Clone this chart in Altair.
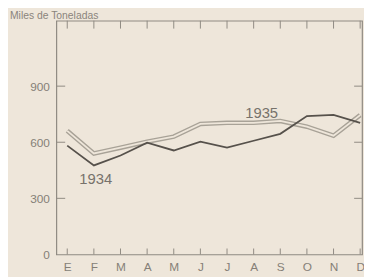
import altair as alt
import pandas as pd

months = ["E", "F", "M", "A", "M", "J", "J", "A", "S", "O", "N", "D"]
y1934 = [582, 476, 529, 598, 556, 603, 571, 608, 645, 740, 746, 704]
y1935 = [661, 540, 571, 603, 630, 698, 704, 704, 714, 683, 635, 745]
yticks = [0, 300, 600, 900]
labels = ["1934", "1935"]
label_x = [1.07, 7.3]
label_y = [405, 758]

BG = "#eee6da"
GRAY = "#8f8a82"
TXT = "#857f77"
FONT = "Liberation Sans"

idx = list(range(len(months)))
d34 = pd.DataFrame({"i": idx, "v": y1934})
d35 = pd.DataFrame({"i": idx, "v": y1935})
dm = pd.DataFrame({"i": idx, "m": months})
dy = pd.DataFrame({"v": yticks[1:]})
dl = pd.DataFrame({"i": label_x, "v": label_y, "t": labels})

label_expr = "[" + ",".join(f"'{m}'" for m in months) + "][round(datum.value)]"

xs = alt.Scale(domain=[-0.41, 11.07], nice=False, zero=False)
ys = alt.Scale(domain=[0, 1250], nice=False)

xaxis = alt.Axis(
    values=idx, labelExpr=label_expr, title=None, domain=False, ticks=False,
    grid=False, labelPadding=7, labelFontSize=12, labelColor=TXT, labelFont=FONT,
    labelOverlap=False, labelBound=False, labelFlush=False, labelSeparation=0)
yaxis = alt.Axis(
    values=yticks, title=None, domain=False, ticks=False, grid=False,
    labelPadding=7, labelFontSize=12, labelColor=TXT, labelFont=FONT,
    labelOverlap=False)

xenc = alt.X("i:Q", scale=xs, axis=xaxis)
yenc = alt.Y("v:Q", scale=ys, axis=yaxis)

l35a = alt.Chart(d35).mark_line(color="#a8a297", strokeWidth=4.6).encode(x=xenc, y=yenc)
l35b = alt.Chart(d35).mark_line(color=BG, strokeWidth=1.8).encode(x=xenc, y=yenc)
l34 = alt.Chart(d34).mark_line(color="#56514b", strokeWidth=1.8).encode(x=xenc, y=yenc)

top_ticks = alt.Chart(dm).mark_rule(color=GRAY, strokeWidth=1).encode(
    x=xenc, y=alt.value(0), y2=alt.value(8))
bot_ticks = alt.Chart(dm).mark_rule(color=GRAY, strokeWidth=1).encode(
    x=xenc, y=alt.value(237), y2=alt.value(231))
left_ticks = alt.Chart(dy).mark_rule(color=GRAY, strokeWidth=1).encode(
    y=yenc, x=alt.value(0), x2=alt.value(9))
right_ticks = alt.Chart(dy).mark_rule(color=GRAY, strokeWidth=1).encode(
    y=yenc, x=alt.value(310), x2=alt.value(302))

txt = alt.Chart(dl).mark_text(fontSize=15, font=FONT, color="#77726b",
                              baseline="middle", align="center").encode(
    x=xenc, y=yenc, text="t:N")

title = alt.Chart(pd.DataFrame({"t": ["Miles de Toneladas"]})).mark_text(
    fontSize=10.5, font=FONT, color="#8a847c", align="left", baseline="alphabetic").encode(
    x=alt.value(-47), y=alt.value(-2), text="t:N")

chart = alt.layer(l35a, l35b, l34, top_ticks, bot_ticks, left_ticks, right_ticks,
                  txt, title).properties(
    width=310, height=237,
    autosize=alt.AutoSizeParams(type="none"),
    padding={"left": 49, "top": 11, "right": 2, "bottom": 21},
    background=BG,
).configure_view(stroke=GRAY, strokeWidth=1.2)

chart.save("out.html", embed_options={"renderer": "svg", "actions": False})
